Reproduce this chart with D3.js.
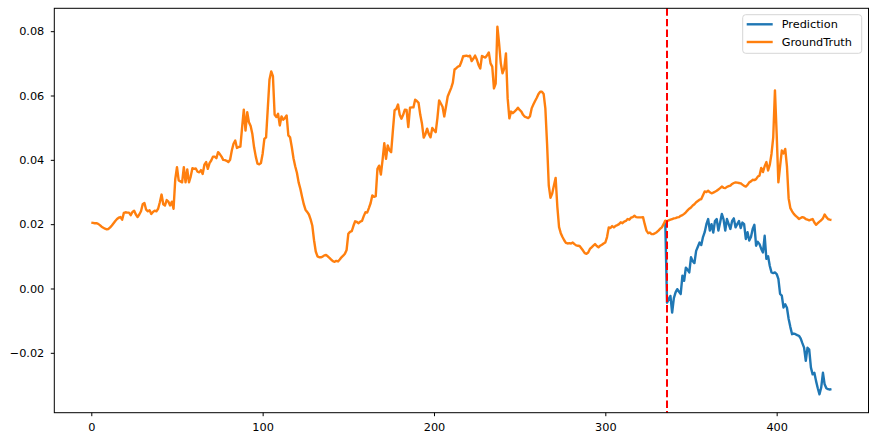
<!DOCTYPE html>
<html>
<head>
<meta charset="utf-8">
<script src="https://cdn.jsdelivr.net/npm/d3@7"></script>
<style>
  body { margin: 0; background: #fff; }
  text { font-family: "DejaVu Sans", sans-serif; }
</style>
</head>
<body>
<div id="graph"></div>
<script>
// ground truth, one value per step starting at 0
const truth = [
  0.0205, 0.0204, 0.0203, 0.0203, 0.0201, 0.0197, 0.0192, 0.0189, 0.0186, 0.0184,
  0.0185, 0.0190, 0.0196, 0.0203, 0.0210, 0.0216, 0.0220, 0.0222, 0.0214, 0.0235,
  0.0237, 0.0236, 0.0236, 0.0228, 0.0238, 0.0242, 0.0230, 0.0222, 0.0230, 0.0240,
  0.0262, 0.0266, 0.0245, 0.0240, 0.0243, 0.0232, 0.0238, 0.0242, 0.0240, 0.0248,
  0.0268, 0.0292, 0.0262, 0.0258, 0.0275, 0.0270, 0.0258, 0.0270, 0.0248, 0.0340,
  0.0377, 0.0336, 0.0333, 0.0330, 0.0377, 0.0330, 0.0370, 0.0330, 0.0348, 0.0374,
  0.0372, 0.0373, 0.0363, 0.0361, 0.0368, 0.0356, 0.0385, 0.0393, 0.0372, 0.0390,
  0.0398, 0.0410, 0.0410, 0.0405, 0.0424, 0.0418, 0.0410, 0.0400, 0.0399, 0.0397,
  0.0393, 0.0400, 0.0429, 0.0450, 0.0460, 0.0437, 0.0440, 0.0441, 0.0500, 0.0556,
  0.0491, 0.0548, 0.0517, 0.0505, 0.0480, 0.0439, 0.0410, 0.0388, 0.0386, 0.0390,
  0.0419, 0.0465, 0.0470, 0.0560, 0.0650, 0.0675, 0.0660, 0.0540, 0.0533, 0.0543,
  0.0507, 0.0535, 0.0525, 0.0530, 0.0538, 0.0476, 0.0470, 0.0440, 0.0405, 0.0380,
  0.0360, 0.0330, 0.0310, 0.0285, 0.0262, 0.0245, 0.0238, 0.0230, 0.0215, 0.0195,
  0.0150, 0.0115, 0.0100, 0.0097, 0.0097, 0.0099, 0.0103, 0.0104, 0.0100, 0.0095,
  0.0090, 0.0085, 0.0083, 0.0086, 0.0084, 0.0090, 0.0097, 0.0102, 0.0108, 0.0120,
  0.0170, 0.0176, 0.0178, 0.0195, 0.0209, 0.0207, 0.0203, 0.0208, 0.0210, 0.0225,
  0.0237, 0.0236, 0.0250, 0.0265, 0.0289, 0.0285, 0.0287, 0.0372, 0.0382, 0.0354,
  0.0400, 0.0452, 0.0403, 0.0445, 0.0430, 0.0424, 0.0490, 0.0554, 0.0558, 0.0572,
  0.0540, 0.0528, 0.0540, 0.0556, 0.0555, 0.0502, 0.0562, 0.0563, 0.0563, 0.0587,
  0.0583, 0.0577, 0.0540, 0.0512, 0.0469, 0.0480, 0.0497, 0.0480, 0.0470, 0.0499,
  0.0492, 0.0486, 0.0530, 0.0585, 0.0575, 0.0565, 0.0535, 0.0565, 0.0597, 0.0610,
  0.0623, 0.0640, 0.0681, 0.0685, 0.0690, 0.0692, 0.0705, 0.0722, 0.0723, 0.0724,
  0.0722, 0.0724, 0.0707, 0.0715, 0.0724, 0.0712, 0.0695, 0.0684, 0.0723, 0.0720,
  0.0718, 0.0725, 0.0734, 0.0700, 0.0690, 0.0622, 0.0637, 0.0814, 0.0762, 0.0700,
  0.0669, 0.0684, 0.0731, 0.0591, 0.0529, 0.0550, 0.0545, 0.0550, 0.0555, 0.0562,
  0.0555, 0.0550, 0.0540, 0.0534, 0.0532, 0.0530, 0.0535, 0.0560, 0.0572, 0.0583,
  0.0593, 0.0605, 0.0612, 0.0612, 0.0605, 0.0560, 0.0450, 0.0320, 0.0282, 0.0295,
  0.0320, 0.0344, 0.0254, 0.0191, 0.0172, 0.0160, 0.0150, 0.0142, 0.0140, 0.0141,
  0.0140, 0.0143, 0.0138, 0.0134, 0.0133, 0.0132, 0.0125, 0.0118, 0.0110, 0.0108,
  0.0112, 0.0123, 0.0128, 0.0133, 0.0138, 0.0132, 0.0128, 0.0133, 0.0136, 0.0140,
  0.0143, 0.0160, 0.0190, 0.0188, 0.0194, 0.0190, 0.0195, 0.0197, 0.0200, 0.0206,
  0.0203, 0.0208, 0.0210, 0.0216, 0.0214, 0.0220, 0.0222, 0.0226, 0.0222, 0.0221,
  0.0221, 0.0221, 0.0222, 0.0200, 0.0180, 0.0172, 0.0174, 0.0169, 0.0169, 0.0172,
  0.0175, 0.0180, 0.0186, 0.0190, 0.0200, 0.0211, 0.0209, 0.0212, 0.0214, 0.0216,
  0.0218, 0.0219, 0.0221, 0.0222, 0.0226, 0.0228, 0.0232, 0.0237, 0.0243, 0.0248,
  0.0252, 0.0258, 0.0262, 0.0268, 0.0272, 0.0276, 0.0278, 0.0290, 0.0302, 0.0300,
  0.0304, 0.0299, 0.0296, 0.0298, 0.0301, 0.0304, 0.0308, 0.0312, 0.0317, 0.0313,
  0.0312, 0.0316, 0.0318, 0.0320, 0.0325, 0.0328, 0.0330, 0.0329, 0.0328, 0.0327,
  0.0323, 0.0319, 0.0317, 0.0322, 0.0330, 0.0333, 0.0338, 0.0337, 0.0340, 0.0348,
  0.0351, 0.0375, 0.0362, 0.0380, 0.0393, 0.0367, 0.0385, 0.0419, 0.0470, 0.0616,
  0.0481, 0.0330, 0.0380, 0.0429, 0.0420, 0.0434, 0.0380, 0.0280, 0.0250, 0.0240,
  0.0232, 0.0226, 0.0222, 0.0216, 0.0219, 0.0222, 0.0220, 0.0216, 0.0214, 0.0212,
  0.0214, 0.0216, 0.0205, 0.0198, 0.0203, 0.0208, 0.0212, 0.0218, 0.0230, 0.0222,
  0.0216, 0.0214, 0.0213
];

// prediction starts at step 335
const predStart = 335;
const prediction = [
  0.0206, -0.0044, -0.0033, -0.0023, -0.0075, -0.0030, -0.0012, -0.0002, -0.0010, -0.0017,
  0.0040, 0.0024, 0.0065, 0.0058, 0.0050, 0.0097, 0.0085, 0.0079, 0.0117, 0.0130,
  0.0143, 0.0135, 0.0160, 0.0175, 0.0200, 0.0216, 0.0180, 0.0200, 0.0174, 0.0210,
  0.0216, 0.0180, 0.0205, 0.0232, 0.0215, 0.0180, 0.0216, 0.0200, 0.0185, 0.0210,
  0.0218, 0.0190, 0.0200, 0.0210, 0.0188, 0.0205, 0.0200, 0.0154, 0.0175, 0.0149,
  0.0160, 0.0185, 0.0198, 0.0133, 0.0145, 0.0138, 0.0123, 0.0112, 0.0164, 0.0092,
  0.0100, 0.0070, 0.0050, 0.0048, 0.0050, 0.0045, 0.0030, -0.0017, -0.0022, -0.0059,
  -0.0049, -0.0060, -0.0095, -0.0120, -0.0142, -0.0140, -0.0142, -0.0145, -0.0147, -0.0155,
  -0.0170, -0.0184, -0.0225, -0.0184, -0.0190, -0.0246, -0.0267, -0.0262, -0.0288, -0.0310,
  -0.0329, -0.0308, -0.0262, -0.0298, -0.0310, -0.0313, -0.0314, -0.0313
];

const splitAt = 336;
const xTicks = [0, 100, 200, 300, 400];
const yTicks = [-0.02, 0.00, 0.02, 0.04, 0.06, 0.08];
const seriesNames = ["Prediction", "GroundTruth"];

const width = 877;
const height = 442;
const margin = { left: 54.3, right: 8.5, top: 8.3, bottom: 29.3 };
const blue = "#1f77b4";
const orange = "#ff7f0e";
const fontSize = 11.3;

let truthData = truth.map((v, i) => ({ x: i, y: v }));
let predData = prediction.map((v, i) => ({ x: predStart + i, y: v }));

let svg = d3.select('#graph')
  .append('svg')
  .attr('width', width)
  .attr('height', height);

// matplotlib-like 5% margins
let n = truth.length - 1;
let xScale = d3.scaleLinear()
  .domain([-0.05 * n, n * 1.05])
  .range([margin.left, width - margin.right]);

let yMin = d3.min(truth.concat(prediction));
let yMax = d3.max(truth.concat(prediction));
let yPad = (yMax - yMin) * 0.05;
let yScale = d3.scaleLinear()
  .domain([yMin - yPad, yMax + yPad])
  .range([height - margin.bottom, margin.top]);

let xAxis = d3.axisBottom(xScale)
  .tickValues(xTicks)
  .tickFormat(d3.format("d"))
  .tickSize(3.5)
  .tickPadding(6.5);

let yAxis = d3.axisLeft(yScale)
  .tickValues(yTicks)
  .tickFormat(d3.format(".2f"))
  .tickSize(3.5)
  .tickPadding(6.5);

let axis = svg.append('g').attr('class', 'axis');
axis.append('g')
  .attr('transform', `translate(0, ${height - margin.bottom})`)
  .call(xAxis);
axis.append('g')
  .attr('transform', `translate(${margin.left}, 0)`)
  .call(yAxis);
axis.selectAll('.domain').remove();
axis.selectAll('.tick line').attr('stroke', '#000').attr('stroke-width', 1);
axis.selectAll('.tick text')
  .attr('fill', '#000')
  .style('font-size', fontSize + 'px')
  .style('font-family', '"DejaVu Sans", sans-serif');

// lines
let line = d3.line()
  .x(d => xScale(d.x))
  .y(d => yScale(d.y));

let plot = svg.append('g').attr('class', 'lines');
plot.append('path')
  .datum(predData)
  .attr('fill', 'none')
  .attr('stroke', blue)
  .attr('stroke-width', 2.4)
  .attr('stroke-linejoin', 'round')
  .attr('d', line);
plot.append('path')
  .datum(truthData)
  .attr('fill', 'none')
  .attr('stroke', orange)
  .attr('stroke-width', 2.4)
  .attr('stroke-linejoin', 'round')
  .attr('d', line);

// split marker
svg.append('line')
  .attr('x1', xScale(splitAt))
  .attr('x2', xScale(splitAt))
  .attr('y1', margin.top)
  .attr('y2', height - margin.bottom)
  .attr('stroke', 'red')
  .attr('stroke-width', 2)
  .attr('stroke-dasharray', '7.4,3.2');

// frame
svg.append('rect')
  .attr('x', margin.left)
  .attr('y', margin.top)
  .attr('width', width - margin.left - margin.right)
  .attr('height', height - margin.top - margin.bottom)
  .attr('fill', 'none')
  .attr('stroke', '#000')
  .attr('stroke-width', 1);

// legend
let legend = svg.append('g').attr('class', 'legend')
  .attr('transform', 'translate(742.7, 14.7)');
legend.append('rect')
  .attr('width', 119)
  .attr('height', 38.6)
  .attr('rx', 3)
  .attr('fill', '#fff')
  .attr('fill-opacity', 0.8)
  .attr('stroke', '#d6d6d6')
  .attr('stroke-width', 1);
[blue, orange].forEach((c, i) => {
  legend.append('line')
    .attr('x1', 4)
    .attr('x2', 30)
    .attr('y1', 9.6 + i * 17.7)
    .attr('y2', 9.6 + i * 17.7)
    .attr('stroke', c)
    .attr('stroke-width', 2.4);
  legend.append('text')
    .attr('x', 39)
    .attr('y', 9.6 + i * 17.7)
    .attr('dy', '0.35em')
    .style('font-size', fontSize + 'px')
    .text(seriesNames[i]);
});
</script>
</body>
</html>
